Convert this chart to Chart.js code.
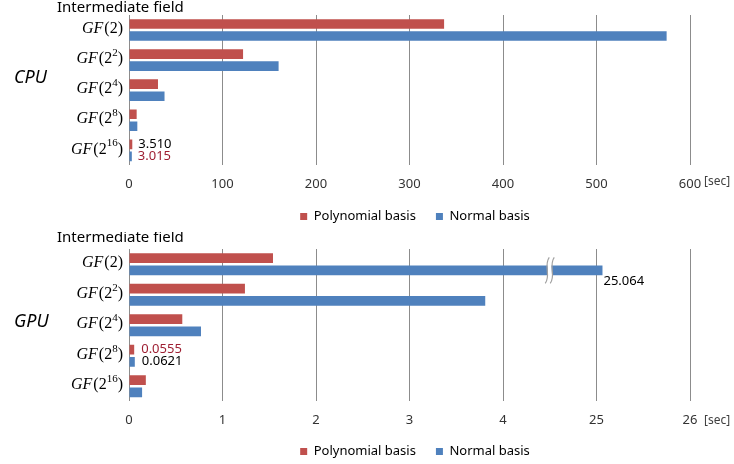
<!DOCTYPE html>
<html><head><meta charset="utf-8">
<script src="https://cdn.jsdelivr.net/npm/chart.js@4/dist/chart.umd.min.js"></script>
<style>
html,body{margin:0;padding:0;background:#fff;}
#wrap{position:relative;width:734px;height:464px;}
.box{position:absolute;left:0;width:734px;height:232px;}
</style></head><body>
<div id="wrap">
  <div class="box" style="top:0"><canvas id="cpu" width="734" height="232"></canvas></div>
  <div class="box" style="top:232px"><canvas id="gpu" width="734" height="232"></canvas></div>
</div>
<script>
// ---- data ----
const categories = ['GF(2)', 'GF(2²)', 'GF(2⁴)', 'GF(2⁸)', 'GF(2¹⁶)'];
const seriesNames = ['Polynomial basis', 'Normal basis'];
const cpuPolynomial = [337, 122, 31, 8.2, 3.510];
const cpuNormal = [575, 160, 38, 8.9, 3.015];
const gpuPolynomial = [1.54, 1.24, 0.57, 0.0555, 0.18];
const gpuNormal = [25.064, 3.81, 0.77, 0.0621, 0.14];
const cpuTicks = [0, 100, 200, 300, 400, 500, 600];
const gpuTicks = [0, 1, 2, 3, 4, 25, 26];

const RED = '#C0504D', BLUE = '#4F81BD', DARKRED = '#9E1F32';
const SANS = '"Noto Sans", "Open Sans", sans-serif';
const SERIF = '"Liberation Serif", "DejaVu Serif", serif';
const SUP = '⁰¹²³⁴⁵⁶⁷⁸⁹';

// GPU axis is broken between 4 and 25
function gpuPos(v) { return v <= 4 ? v : 5 + (v - 25); }

function drawFieldLabel(ctx, label, right, y) {
  const m = label.match(/^([A-Z]+)\((\d+)([⁰¹²³⁴⁵⁶⁷⁸⁹]*)\)$/);
  const parts = [
    { t: m[1], f: 'italic 16px ' + SERIF, dy: 0, gap: 1 },
    { t: '(' + m[2], f: '16px ' + SERIF, dy: 0, gap: 0 },
    { t: [...m[3]].map(c => SUP.indexOf(c)).join(''), f: '11px ' + SERIF, dy: -6, gap: 0 },
    { t: ')', f: '16px ' + SERIF, dy: 0, gap: 0 }
  ];
  let w = 0;
  for (const p of parts) { ctx.font = p.f; p.w = ctx.measureText(p.t).width; w += p.w + p.gap; }
  let x = right - w;
  for (const p of parts) {
    ctx.font = p.f; ctx.fillText(p.t, x, y + p.dy);
    x += p.w + p.gap;
  }
}

const deco = {
  id: 'deco',
  afterLayout(chart, args, o) {
    const lg = chart.legend;
    lg.left += o.legendDx; lg.right += o.legendDx;
    lg.top += o.legendDy; lg.bottom += o.legendDy;
  },
  afterDatasetsDraw(chart, args, o) {
    const ctx = chart.ctx, ca = chart.chartArea, xs = chart.scales.x, ys = chart.scales.y;
    ctx.save();
    // axis break squiggle
    if (o.breakAt !== undefined) {
      const el = chart.getDatasetMeta(o.breakSeries).data[o.breakIndex];
      const x = xs.getPixelForValue(o.breakAt), y = el.y;
      const curve = (off) => {
        ctx.beginPath();
        ctx.moveTo(x + off + 2, y - 13);
        ctx.bezierCurveTo(x + off - 4, y - 5, x + off + 4, y + 5, x + off - 2, y + 13);
      };
      ctx.strokeStyle = '#fff'; ctx.lineWidth = 4; curve(0); ctx.stroke();
      ctx.strokeStyle = '#a0a0a0'; ctx.lineWidth = 1.2;
      curve(-2.5); ctx.stroke(); curve(2.5); ctx.stroke();
    }
    // category labels with superscripts
    ctx.fillStyle = '#000'; ctx.textBaseline = 'middle'; ctx.textAlign = 'left';
    chart.data.labels.forEach((lab, i) => drawFieldLabel(ctx, lab, ca.left - 6, ys.getPixelForValue(i) - 1));
    // value labels
    ctx.font = '13px ' + SANS;
    for (const l of o.labels) {
      const el = chart.getDatasetMeta(l.series).data[l.index];
      const v = chart.data.datasets[l.series].raw[l.index];
      ctx.fillStyle = l.color;
      ctx.fillText(v.toFixed(l.digits), el.x + l.dx, el.y + l.dy);
    }
    // titles
    ctx.fillStyle = '#000';
    ctx.font = '15px ' + SANS;
    ctx.fillText('Intermediate field', 57, o.titleY);
    ctx.font = 'italic 18px ' + SANS;
    ctx.fillText(o.side, 14, o.sideY);
    ctx.fillStyle = '#404040';
    ctx.font = '12px ' + SANS;
    ctx.fillText('[sec]', ca.right + 14, o.unitY);
    ctx.restore();
  }
};

function makeChart(id, poly, norm, xopts, decoOpts, map) {
  const m = map || (v => v);
  return new Chart(document.getElementById(id), {
    type: 'bar',
    data: {
      labels: categories,
      datasets: [
        { label: seriesNames[0], data: poly.map(m), raw: poly, backgroundColor: RED, borderWidth: 0 },
        { label: seriesNames[1], data: norm.map(m), raw: norm, backgroundColor: BLUE, borderWidth: 0 }
      ]
    },
    options: {
      indexAxis: 'y',
      responsive: false,
      animation: false,
      events: [],
      categoryPercentage: 0.8,
      barPercentage: 0.8,
      layout: { padding: { top: decoOpts.top, right: 44, left: 0, bottom: decoOpts.bottom } },
      scales: {
        x: Object.assign({
          grid: { color: '#8c8c8c', lineWidth: 1, drawTicks: false, tickLength: 0 },
          border: { display: false }
        }, xopts),
        y: {
          grid: { display: false },
          border: { display: false },
          ticks: { display: false },
          afterFit: s => { s.width = 129; }
        }
      },
      plugins: {
        tooltip: { enabled: false },
        legend: {
          position: 'bottom',
          labels: { boxWidth: 7, boxHeight: 7, padding: 20, color: '#000', font: { size: 13, family: SANS } }
        },
        deco: decoOpts
      }
    },
    plugins: [deco]
  });
}

makeChart('cpu', cpuPolynomial, cpuNormal,
  { min: cpuTicks[0], max: cpuTicks[cpuTicks.length - 1], ticks: { stepSize: 100, padding: 11, color: '#333', font: { size: 13, family: SANS } } },
  { top: 15, bottom: -14, titleY: 8, side: 'CPU', sideY: 78, unitY: 182, legendDx: 70, legendDy: -13,
    labels: [
      { series: 0, index: 4, digits: 3, color: '#000', dx: 6, dy: 0 },
      { series: 1, index: 4, digits: 3, color: DARKRED, dx: 6, dy: 0 }
    ] });

makeChart('gpu', gpuPolynomial, gpuNormal,
  { min: 0, max: 6, ticks: { stepSize: 1, padding: 11, color: '#333', font: { size: 13, family: SANS }, callback: (v) => gpuTicks[v] } },
  { top: 17, bottom: -18, titleY: 6, side: 'GPU', sideY: 90, unitY: 189, legendDx: 70, legendDy: -14,
    breakAt: 4.5, breakSeries: 1, breakIndex: 0,
    labels: [
      { series: 1, index: 0, digits: 3, color: '#000', dx: 1, dy: 11 },
      { series: 0, index: 3, digits: 4, color: DARKRED, dx: 7, dy: 0 },
      { series: 1, index: 3, digits: 4, color: '#000', dx: 7, dy: 0 }
    ] }, gpuPos);
</script>
</body></html>
